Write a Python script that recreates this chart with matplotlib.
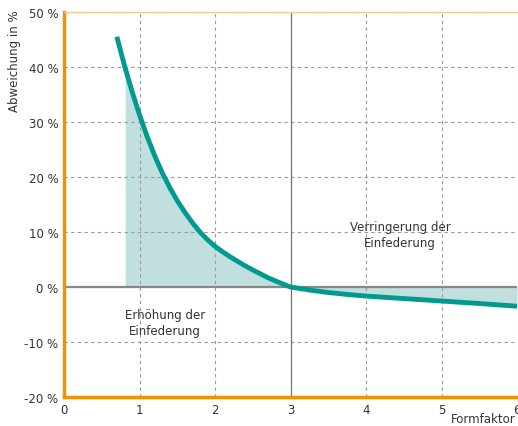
import matplotlib.pyplot as plt
import numpy as np

# values
formfaktor = [0.70, 0.80, 0.90, 1.00, 1.10, 1.20, 1.30, 1.40, 1.50, 1.60, 1.70, 1.80, 1.90,
              2.00, 2.10, 2.20, 2.30, 2.40, 2.50, 2.60, 2.70, 2.80, 2.90, 3.00,
              3.25, 3.50, 3.75, 4.00, 4.50, 5.00, 5.50, 6.00]
abweichung = [45.5, 40.3, 35.6, 31.3, 27.4, 23.9, 20.8, 18.1, 15.7, 13.6, 11.7, 10.0, 8.6,
              7.4, 6.4, 5.5, 4.65, 3.85, 3.1, 2.4, 1.7, 1.1, 0.55, 0.0,
              -0.55, -1.0, -1.35, -1.65, -2.1, -2.55, -3.0, -3.5]
fill_start = 0.81
xticks = [0, 1, 2, 3, 4, 5, 6]
yticks = [-20, -10, 0, 10, 20, 30, 40, 50]

teal = '#009b8e'
fill_col = '#c2dfdf'
orange = '#f39200'
grey = '#999999'
txt = '#333333'

plt.rcParams['font.family'] = ['DejaVu Sans']

fig = plt.figure(figsize=(5.18, 4.27), dpi=100)
ax = fig.add_axes([64 / 518, 1 - 398 / 427, 453 / 518, 385 / 427])

x = np.array(formfaktor)
y = np.array(abweichung)
m = x >= fill_start
xf = np.concatenate([[fill_start], x[m]])
yf = np.concatenate([[np.interp(fill_start, x, y)], y[m]])
ax.fill_between(xf, yf, 0, color=fill_col, lw=0, zorder=1)

ax.grid(True, color=grey, ls=(0, (3, 3)), lw=0.8, zorder=0)
ax.axhline(0, color='#888888', lw=1.6, zorder=2)
ax.axvline(3, color='#777777', lw=0.9, zorder=2)
ax.plot(x, y, color=teal, lw=3.5, solid_capstyle='butt', solid_joinstyle='round', zorder=3)

ax.set_xlim(0, 6)
ax.set_ylim(-20, 50)
ax.set_xticks(xticks)
ax.set_yticks(yticks)
ax.set_yticklabels([f'{v} %' for v in yticks])
ax.tick_params(length=0, labelsize=8.5, colors=txt, pad=4)

for s in ['left', 'bottom']:
    ax.spines[s].set_color(orange)
    ax.spines[s].set_linewidth(2.5)
ax.spines['top'].set_color('#f9cc8a')
ax.spines['top'].set_linewidth(1)
ax.spines['right'].set_visible(False)

ax.set_ylabel('Abweichung in %', fontsize=8.5, color=txt)
ax.yaxis.set_label_coords(-0.095, 0.875)
fig.text(0.995, 1 - 420 / 427, 'Formfaktor', ha='right', va='center', fontsize=8.5, color=txt)

ax.text(1.34, -6.5, 'Erhöhung der\nEinfederung', ha='center', va='center', fontsize=8.5, color=txt, linespacing=1.3)
ax.text(4.45, 9.5, 'Verringerung der\nEinfederung', ha='center', va='center', fontsize=8.5, color=txt, linespacing=1.3)

fig.savefig('out.png', dpi=100)
